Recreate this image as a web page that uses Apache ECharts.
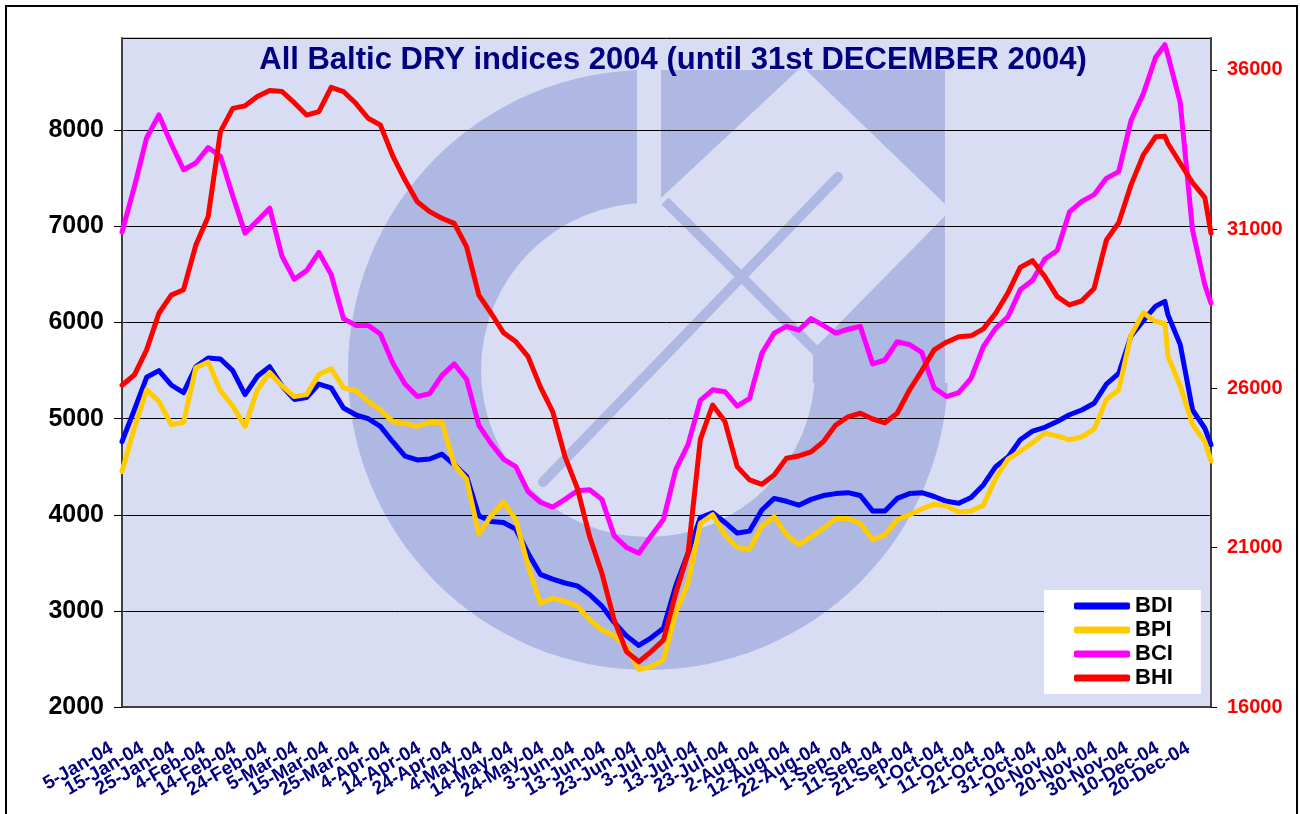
<!DOCTYPE html>
<html>
<head>
<meta charset="utf-8">
<script src="https://cdn.jsdelivr.net/npm/echarts@6/dist/echarts.min.js"></script>
<style>
  html, body { margin: 0; padding: 0; background: #fff; }
  #chart { width: 1300px; height: 814px; }
</style>
</head>
<body>
<div id="chart"></div>
<script>
// dates (every 4 days, plus the December peak)
const sampleDates = ['5-Jan-04','9-Jan-04','13-Jan-04','17-Jan-04','21-Jan-04','25-Jan-04','29-Jan-04',
  '2-Feb-04','6-Feb-04','10-Feb-04','14-Feb-04','18-Feb-04','22-Feb-04','26-Feb-04',
  '1-Mar-04','5-Mar-04','9-Mar-04','13-Mar-04','17-Mar-04','21-Mar-04','25-Mar-04','29-Mar-04',
  '2-Apr-04','6-Apr-04','10-Apr-04','14-Apr-04','18-Apr-04','22-Apr-04','26-Apr-04','30-Apr-04',
  '4-May-04','8-May-04','12-May-04','16-May-04','20-May-04','24-May-04','28-May-04',
  '1-Jun-04','5-Jun-04','9-Jun-04','13-Jun-04','17-Jun-04','21-Jun-04','25-Jun-04','29-Jun-04',
  '3-Jul-04','7-Jul-04','11-Jul-04','15-Jul-04','19-Jul-04','23-Jul-04','27-Jul-04','31-Jul-04',
  '4-Aug-04','8-Aug-04','12-Aug-04','16-Aug-04','20-Aug-04','24-Aug-04','28-Aug-04',
  '1-Sep-04','5-Sep-04','9-Sep-04','13-Sep-04','17-Sep-04','21-Sep-04','25-Sep-04','29-Sep-04',
  '3-Oct-04','7-Oct-04','11-Oct-04','15-Oct-04','19-Oct-04','23-Oct-04','27-Oct-04','31-Oct-04',
  '4-Nov-04','8-Nov-04','12-Nov-04','16-Nov-04','20-Nov-04','24-Nov-04','28-Nov-04',
  '2-Dec-04','6-Dec-04','9-Dec-04','10-Dec-04','14-Dec-04','18-Dec-04','22-Dec-04','24-Dec-04'];

const bdi = [4760,5090,5430,5500,5350,5270,5540,5630,5620,5500,5250,5440,5540,5340,5200,5220,5360,5320,5110,5040,
  5000,4920,4760,4610,4570,4580,4630,4520,4400,3990,3930,3920,3850,3600,3380,3330,3290,3260,3170,3050,
  2880,2740,2640,2720,2820,3260,3600,3970,4020,3920,3810,3830,4050,4170,4140,4100,4160,4200,4220,4230,
  4200,4040,4040,4170,4220,4230,4190,4140,4120,4180,4310,4500,4600,4780,4870,4910,4970,5040,5090,5160,
  5360,5470,5860,6020,6170,6220,6080,5770,5090,4900,4730];

const bpi = [4450,4900,5300,5180,4940,4960,5530,5590,5290,5130,4920,5300,5480,5340,5230,5250,5460,5520,5320,5290,
  5180,5090,4970,4950,4920,4960,4960,4520,4370,3800,3990,4130,3950,3470,3080,3130,3100,3050,2910,2800,
  2740,2630,2390,2420,2490,2980,3290,3910,4000,3790,3660,3640,3880,3980,3790,3690,3770,3860,3960,3960,
  3910,3740,3790,3950,4000,4060,4110,4090,4030,4040,4100,4380,4580,4660,4750,4850,4820,4780,4810,4890,
  5200,5300,5870,6100,6010,5990,5650,5340,4940,4760,4560];

const bci = [6940,7410,7920,8160,7860,7590,7660,7820,7730,7320,6930,7060,7190,6690,6450,6540,6730,6500,6040,5970,
  5970,5880,5580,5360,5230,5260,5450,5570,5410,4930,4740,4580,4500,4240,4130,4080,4160,4250,4260,4160,
  3780,3660,3600,3780,3950,4470,4730,5190,5300,5280,5130,5210,5680,5890,5960,5920,6040,5970,5890,5930,
  5960,5570,5610,5800,5770,5690,5320,5230,5270,5420,5750,5940,6060,6340,6440,6660,6750,7150,7260,7330,
  7500,7570,8100,8380,8760,8890,8780,8290,6960,6390,6200];

// BHI is on the right hand axis
const bhi = [26100,26420,27210,28360,28930,29100,30500,31390,34060,34790,34870,35160,35350,35320,34970,34580,34690,35450,35320,34950,
  34480,34270,33300,32540,31860,31550,31340,31180,30450,28930,28360,27750,27470,27000,26050,25270,23860,22870,21350,20200,
  18730,17740,17420,17740,18100,19570,20820,24400,25480,24960,23540,23130,22990,23280,23810,23880,24010,24330,24850,25110,
  25220,25040,24920,25220,25950,26560,27210,27450,27620,27650,27870,28360,29000,29800,30010,29510,28880,28620,28750,29140,
  30660,31200,32390,33330,33900,33920,33690,33070,32460,31990,30870];

const leftTicks = [2000, 3000, 4000, 5000, 6000, 7000, 8000];
const rightTicks = [16000, 21000, 26000, 31000, 36000];

// one category per calendar day, 5-Jan-04 .. 24-Dec-04, a label every 10 days
const months = ['Jan','Feb','Mar','Apr','May','Jun','Jul','Aug','Sep','Oct','Nov','Dec'];
const days = [];
for (let t = new Date(2004, 0, 5); t <= new Date(2004, 11, 24); t.setDate(t.getDate() + 1)) {
  days.push(t.getDate() + '-' + months[t.getMonth()] + '-04');
}
const labelEvery = 10;

function onDays(values) {
  const out = days.map(() => null);
  sampleDates.forEach((d, i) => { out[days.indexOf(d)] = values[i]; });
  return out;
}

const myChart = echarts.init(document.getElementById('chart'));
const FONT = 'Liberation Sans';
const plotBg = '#D8DDF4';
const logo = '#AEB8E2';

function line(name, data, color, axis) {
  return {
    name: name, type: 'line', yAxisIndex: axis, data: onDays(data),
    connectNulls: true, showSymbol: false, symbol: 'none', smooth: false,
    color: color,
    lineStyle: { color: color, width: 5, join: 'round', cap: 'round' },
    emphasis: { disabled: true }
  };
}

const option = {
  animation: false,
  backgroundColor: '#fff',
  title: {
    text: 'All Baltic DRY indices 2004 (until 31st DECEMBER 2004)',
    left: 668, top: 40, textAlign: 'center',
    textStyle: { color: '#000080', fontSize: 31, fontWeight: 'bold', fontFamily: FONT }
  },
  legend: {
    data: ['BDI', 'BPI', 'BCI', 'BHI'],
    orient: 'vertical', left: 1044, top: 590,
    backgroundColor: '#fff', padding: [5, 28, 5, 30],
    itemWidth: 56, itemHeight: 7, itemGap: 2, icon: 'roundRect',
    textStyle: { color: '#000', fontSize: 22, fontWeight: 'bold', fontFamily: FONT, lineHeight: 22 }
  },
  grid: { left: 122, right: 89, top: 38, bottom: 107, outerBoundsMode: 'none', show: true,
    borderColor: '#808080', borderWidth: 1 },
  xAxis: {
    type: 'category', data: days, boundaryGap: false,
    axisLine: { lineStyle: { color: '#404040', width: 2 } },
    axisTick: { show: false },
    axisLabel: { interval: 0, rotate: 30, margin: 34, padding: [0, 12, 0, 0],
      color: '#000080', fontSize: 19, fontWeight: 'bold', fontFamily: FONT,
      formatter: (v, i) => (i % labelEvery === 0 ? v : '') },
    splitLine: { show: false }
  },
  yAxis: [{
    type: 'value', position: 'left', min: 2000, max: 8960, interval: 1000,
    axisLine: { show: true, lineStyle: { color: '#404040', width: 2 } },
    axisTick: { show: true, length: 8, lineStyle: { color: '#000' } },
    axisLabel: { margin: 18, color: '#000', fontSize: 25, fontWeight: 'bold', fontFamily: FONT,
      showMaxLabel: false, formatter: v => leftTicks.includes(v) ? String(v) : '' },
    splitLine: { show: true, lineStyle: { color: '#000', width: 1 } }
  }, {
    type: 'value', position: 'right', min: 16000, max: 37000, interval: 5000,
    axisLine: { show: true, lineStyle: { color: '#404040', width: 2 } },
    axisTick: { show: true, length: 6, lineStyle: { color: '#000' } },
    axisLabel: { margin: 16, color: '#FF0000', fontSize: 20, fontWeight: 'bold', fontFamily: FONT,
      showMaxLabel: false, formatter: v => rightTicks.includes(v) ? String(v) : '' },
    splitLine: { show: false }
  }],
  // page frame, plot background and the faint logo behind the lines
  graphic: [
    { type: 'rect', z: -10, shape: { x: 6, y: 6, width: 1291, height: 830 },
      style: { fill: '#fff', stroke: '#000', lineWidth: 2 } },
    { type: 'rect', z: -10, shape: { x: 122, y: 38, width: 1089, height: 669 }, style: { fill: plotBg } },
    { type: 'ring', z: -10, shape: { cx: 648, cy: 370, r: 300, r0: 167 }, style: { fill: logo } },
    { type: 'rect', z: -10, shape: { x: 637, y: 62, width: 320, height: 321 }, style: { fill: plotBg } },
    { type: 'polygon', z: -10, shape: { points: [[661, 70], [798, 70], [661, 198]] }, style: { fill: logo } },
    { type: 'polygon', z: -10, shape: { points: [[806, 70], [945, 70], [945, 204]] }, style: { fill: logo } },
    { type: 'polygon', z: -10, shape: { points: [[945, 216], [945, 383], [813, 383], [813, 350]] },
      style: { fill: logo } },
    { type: 'line', z: -10, shape: { x1: 665, y1: 201, x2: 818, y2: 353 },
      style: { stroke: logo, lineWidth: 10 } },
    { type: 'line', z: -10, shape: { x1: 543, y1: 482, x2: 838, y2: 177 },
      style: { stroke: logo, lineWidth: 10, lineCap: 'round' } }
  ],
  series: [
    line('BDI', bdi, '#0000FF', 0),
    line('BPI', bpi, '#FFCC00', 0),
    line('BCI', bci, '#FF00FF', 0),
    line('BHI', bhi, '#FF0000', 1)
  ]
};

myChart.setOption(option);
window.addEventListener('resize', function () { myChart.resize(); });
</script>
</body>
</html>
